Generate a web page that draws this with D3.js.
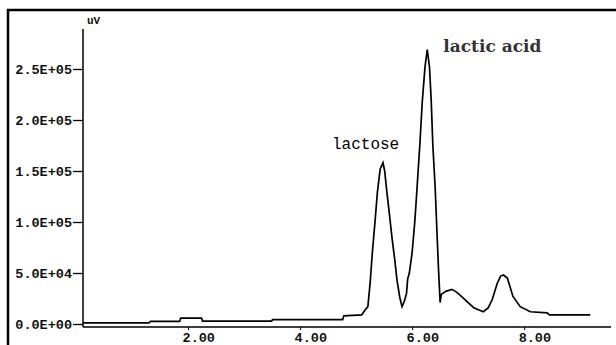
<!DOCTYPE html>
<html>
<head>
<meta charset="utf-8">
<script src="https://cdn.jsdelivr.net/npm/d3@7"></script>
<style>
  body { margin: 0; background: #fff; }
  svg { display: block; }
</style>
</head>
<body>
<svg id="chart" width="616" height="345"></svg>
<script>
// Retention time (min) and detector response (uV)
const times = [
  0.125, 1.30, 1.33, 1.85, 1.87, 2.24, 2.26, 3.49, 3.51, 4.76, 4.78, 5.10, 5.15,
  5.21, 5.25, 5.29, 5.34, 5.38, 5.43, 5.48, 5.51, 5.55, 5.60, 5.64, 5.69, 5.73, 5.78, 5.82,
  5.86, 5.90, 5.92, 5.95, 6.00, 6.05, 6.09, 6.14, 6.18, 6.23, 6.27, 6.31, 6.34, 6.37, 6.41,
  6.44, 6.47, 6.50, 6.52, 6.60, 6.71, 6.80, 6.90, 6.98, 7.10, 7.27, 7.36, 7.43, 7.52, 7.58,
  7.63, 7.70, 7.80, 7.93, 8.11, 8.41, 8.45, 9.18
];
const signal = [
  1200, 1200, 2600, 2600, 5800, 5800, 2800, 2800, 4200, 4200, 8000, 9000, 13000,
  17000, 40000, 70000, 102000, 129000, 152000, 158000, 150000, 129000, 105000, 85000, 63000, 43000, 26000, 17000,
  22000, 30000, 44000, 50000, 70000, 102000, 135000, 178000, 217000, 252000, 269000, 252000, 220000, 175000, 135000,
  95000, 55000, 21000, 29000, 32000, 34000, 31000, 26000, 22000, 16000, 12000, 16000, 24000, 40000, 47000,
  48000, 45000, 27000, 17000, 12000, 11000, 8900, 8900
];

const yTicks = [0, 50000, 100000, 150000, 200000, 250000];
const yTickLabels = ["0.0E+00", "5.0E+04", "1.0E+05", "1.5E+05", "2.0E+05", "2.5E+05"];
const xTicks = [2, 4, 6, 8];
const xTickLabels = ["2.00", "4.00", "6.00", "8.00"];

const peakNames = ["lactose", "lactic acid"];
const peakTimes = [5.48, 6.27];

/**
 * Scales
 */
const svg = d3.select("#chart");
const x = d3.scaleLinear().domain([0.125, 9.55]).range([83, 611]);
const y = d3.scaleLinear().domain([0, 250000]).range([324, 69]);
const axisY = 327;

/**
 * Frame (left and top edges only)
 */
svg.append("path")
    .attr("d", "M8,345V10H616")
    .attr("fill", "none")
    .attr("stroke", "#000")
    .attr("stroke-width", 2.5);

/**
 * Y axis
 */
const yAxis = svg.append("g")
    .attr("transform", "translate(83,0)")
    .call(d3.axisLeft(y).tickValues(yTicks).tickSize(10).tickPadding(1)
        .tickFormat((d, i) => yTickLabels[i]));
yAxis.select(".domain").remove();
yAxis.append("line")
    .attr("x1", 0).attr("x2", 0)
    .attr("y1", 29).attr("y2", axisY)
    .attr("stroke", "#000")
    .attr("stroke-width", 1.5);
yAxis.selectAll(".tick line").attr("stroke", "#000").attr("stroke-width", 1.3);
yAxis.selectAll(".tick text")
    .attr("fill", "#111")
    .style("font-family", "'Liberation Mono', monospace")
    .style("font-weight", "bold")
    .style("font-size", "13.5px");

svg.append("text")
    .attr("x", 87).attr("y", 24)
    .attr("fill", "#111")
    .style("font-family", "'Liberation Mono', monospace")
    .style("font-weight", "bold")
    .style("font-size", "11px")
    .text("uV");

/**
 * X axis
 */
const xAxis = svg.append("g")
    .attr("transform", "translate(0," + axisY + ")")
    .call(d3.axisBottom(x).tickValues(xTicks).tickSize(3).tickPadding(2)
        .tickFormat((d, i) => xTickLabels[i]));
xAxis.select(".domain").remove();
xAxis.append("line")
    .attr("x1", 83).attr("x2", 611)
    .attr("stroke", "#000")
    .attr("stroke-width", 1.5);
xAxis.selectAll(".tick line").attr("stroke", "#000");
xAxis.selectAll(".tick text")
    .attr("text-anchor", "start")
    .attr("dx", -6)
    .attr("fill", "#111")
    .style("font-family", "'Liberation Mono', monospace")
    .style("font-weight", "bold")
    .style("font-size", "13.5px");

/**
 * Chromatogram trace
 */
const line = d3.line()
    .x((d, i) => x(times[i]))
    .y(d => y(d));

svg.append("path")
    .datum(signal)
    .attr("fill", "none")
    .attr("stroke", "#000")
    .attr("stroke-width", 1.7)
    .attr("stroke-linejoin", "miter")
    .attr("d", line);

/**
 * Peak names
 */
svg.append("text")
    .attr("x", x(peakTimes[0]) - 51)
    .attr("y", y(158000) - 14)
    .attr("fill", "#000")
    .style("font-family", "'Liberation Mono', monospace")
    .style("font-size", "16px")
    .text(peakNames[0]);

svg.append("text")
    .attr("x", x(peakTimes[1]) + 16)
    .attr("y", y(269000) + 2)
    .attr("fill", "#333")
    .style("font-family", "'DejaVu Serif', serif")
    .style("font-weight", "bold")
    .style("font-size", "17px")
    .text(peakNames[1]);
</script>
</body>
</html>
